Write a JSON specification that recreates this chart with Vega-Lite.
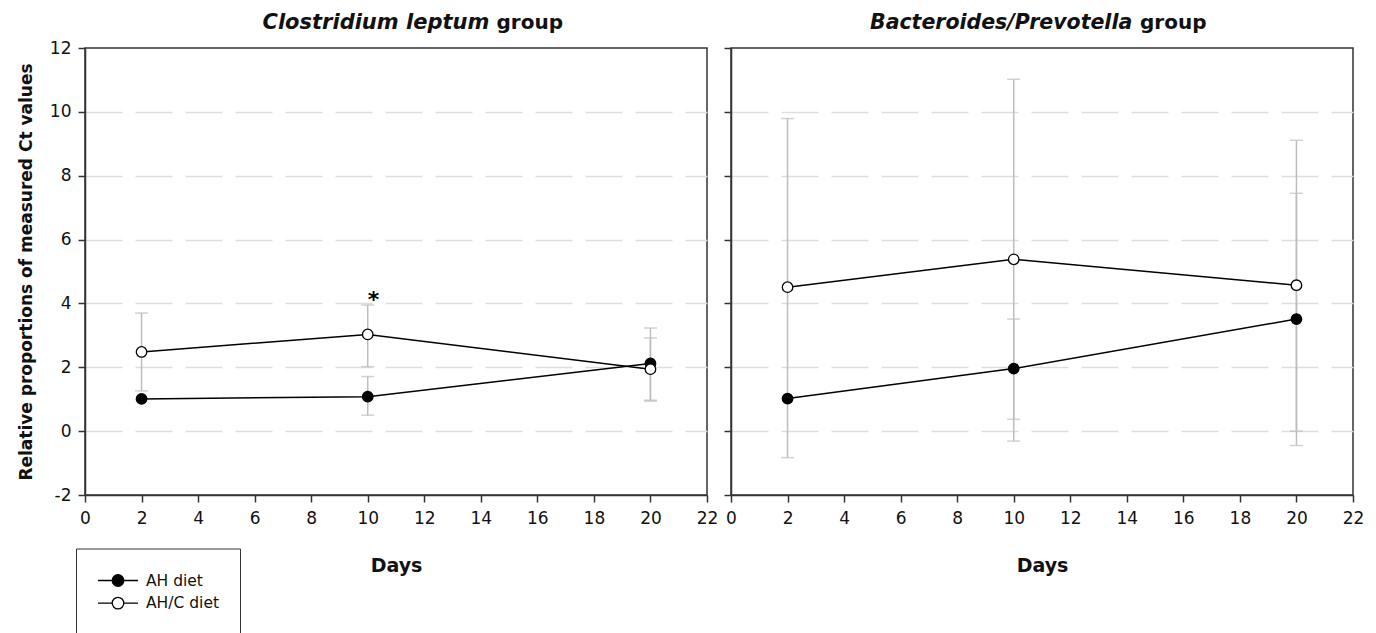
{
  "$schema": "https://vega.github.io/schema/vega-lite/v6.json",
  "background": "white",
  "padding": {"left": 16, "top": 10, "right": 5, "bottom": 0},
  "bounds": "flush",
  "spacing": 24,
  "config": {
    "font": "DejaVu Sans",
    "view": {"stroke": "#333333", "strokeWidth": 1.5},
    "axis": {
      "labelFont": "DejaVu Sans",
      "labelFontSize": 17,
      "labelColor": "#111111",
      "tickColor": "#333333",
      "tickWidth": 1.5,
      "tickSize": 7,
      "domainColor": "#333333",
      "domainWidth": 1.5,
      "titleFont": "DejaVu Sans",
      "titleFontWeight": "bold",
      "titleColor": "#111111"
    }
  },
  "resolve": {"scale": {"fill": "shared"}, "legend": {"fill": "shared"}},
  "datasets": {
    "series": [
      {"panel": "Clostridium leptum", "diet": "AH diet", "day": 2, "mean": 1.01, "lo": 1.01, "hi": 1.01},
      {"panel": "Clostridium leptum", "diet": "AH diet", "day": 10, "mean": 1.08, "lo": 0.50, "hi": 1.71},
      {"panel": "Clostridium leptum", "diet": "AH diet", "day": 20, "mean": 2.12, "lo": 0.97, "hi": 3.23},
      {"panel": "Clostridium leptum", "diet": "AH/C diet", "day": 2, "mean": 2.48, "lo": 1.26, "hi": 3.70},
      {"panel": "Clostridium leptum", "diet": "AH/C diet", "day": 10, "mean": 3.03, "lo": 2.02, "hi": 3.95},
      {"panel": "Clostridium leptum", "diet": "AH/C diet", "day": 20, "mean": 1.94, "lo": 0.94, "hi": 2.92},
      {"panel": "Bacteroides/Prevotella", "diet": "AH diet", "day": 2, "mean": 1.02, "lo": 1.02, "hi": 1.02},
      {"panel": "Bacteroides/Prevotella", "diet": "AH diet", "day": 10, "mean": 1.96, "lo": 0.37, "hi": 3.51},
      {"panel": "Bacteroides/Prevotella", "diet": "AH diet", "day": 20, "mean": 3.51, "lo": -0.45, "hi": 7.45},
      {"panel": "Bacteroides/Prevotella", "diet": "AH/C diet", "day": 2, "mean": 4.51, "lo": -0.83, "hi": 9.79},
      {"panel": "Bacteroides/Prevotella", "diet": "AH/C diet", "day": 10, "mean": 5.38, "lo": -0.31, "hi": 11.02},
      {"panel": "Bacteroides/Prevotella", "diet": "AH/C diet", "day": 20, "mean": 4.57, "lo": 0.0, "hi": 9.11}
    ],
    "notes": [
      {"panel": "Clostridium leptum", "day": 10.2, "value": 4.13, "label": "*"}
    ]
  },
  "hconcat": [
    {
      "width": 622,
      "height": 447,
      "data": {"name": "series"},
      "transform": [{"filter": "datum.panel === 'Clostridium leptum'"}],
      "resolve": {"axis": {"x": "independent", "y": "independent"}},
      "layer": [
        {
          "transform": [{"filter": "datum.hi > datum.lo"}],
          "mark": {"type": "rule", "color": "#bdbdbd", "strokeWidth": 1.5},
          "encoding": {
            "x": {"field": "day", "type": "quantitative", "scale": {"domain": [0, 22], "nice": false, "zero": false},
              "axis": {"orient": "bottom", "values": [0, 2, 4, 6, 8, 10, 12, 14, 16, 18, 20, 22], "grid": false, "title": "Days", "titleFontSize": 19, "titlePadding": 30, "labelPadding": 8, "labelFlush": false}},
            "y": {"field": "lo", "type": "quantitative", "scale": {"domain": [-2, 12], "nice": false, "zero": false},
              "axis": {"orient": "left", "values": [-2, 0, 2, 4, 6, 8, 10, 12], "labelExpr": "datum.value < 0 ? '-' + abs(datum.value) : datum.label", "grid": false, "title": "Relative proportions of measured Ct values", "titleFontSize": 17, "titlePadding": 14, "labelPadding": 7}},
            "y2": {"field": "hi"}
          }
        },
        {
          "transform": [{"filter": "datum.hi > datum.lo"}],
          "mark": {"type": "tick", "orient": "horizontal", "color": "#bdbdbd", "size": 13, "thickness": 1.5},
          "encoding": {
            "x": {"field": "day", "type": "quantitative", "axis": null},
            "y": {"field": "lo", "type": "quantitative", "axis": null}
          }
        },
        {
          "transform": [{"filter": "datum.hi > datum.lo"}],
          "mark": {"type": "tick", "orient": "horizontal", "color": "#bdbdbd", "size": 13, "thickness": 1.5},
          "encoding": {
            "x": {"field": "day", "type": "quantitative", "axis": null},
            "y": {"field": "hi", "type": "quantitative", "axis": null}
          }
        },
        {
          "mark": {"type": "line", "color": "black", "strokeWidth": 1.5},
          "encoding": {
            "x": {"field": "day", "type": "quantitative",
              "axis": {"orient": "top", "domain": false, "ticks": false, "labels": false, "grid": false, "title": "Clostridium leptum", "titleFontSize": 21, "titleFontStyle": "italic", "titleX": 177, "titleY": -20, "titleAlign": "left", "titleBaseline": "alphabetic", "titleAngle": 0}},
            "y": {"field": "mean", "type": "quantitative",
              "axis": {"orient": "left", "values": [0, 2, 4, 6, 8, 10], "grid": true, "gridColor": "#dedede", "gridWidth": 1.5, "gridDash": [37, 13], "domain": false, "ticks": false, "labels": false, "title": null, "minExtent": 0}},
            "detail": {"field": "diet"}
          }
        },
        {
          "mark": {"type": "point", "shape": "circle", "filled": true, "stroke": "black", "strokeWidth": 1.3, "size": 110, "opacity": 1},
          "encoding": {
            "x": {"field": "day", "type": "quantitative",
              "axis": {"orient": "top", "domain": false, "ticks": false, "labels": false, "grid": false, "title": "group", "titleFontSize": 20, "titleFontStyle": "normal", "titleX": 411, "titleY": -20, "titleAlign": "left", "titleBaseline": "alphabetic", "titleAngle": 0}},
            "y": {"field": "mean", "type": "quantitative", "axis": null},
            "fill": {"field": "diet", "type": "nominal", "scale": {"domain": ["AH diet", "AH/C diet"], "range": ["black", "white"]},
              "legend": {"title": null, "orient": "none", "legendX": -9, "legendY": 500.5, "symbolType": "M-1,0H0.42M1.58,0H3M1.58,0A0.58,0.58 0 1 1 0.42,0A0.58,0.58 0 1 1 1.58,0Z", "symbolSize": 400, "symbolStrokeColor": "black", "symbolStrokeWidth": 1.3, "labelFont": "DejaVu Sans", "labelFontSize": 15.5, "labelColor": "#111111", "labelOffset": 27, "rowPadding": 2.6, "padding": 21, "strokeColor": "#333333"}}
          }
        },
        {
          "data": {"name": "notes"},
          "mark": {"type": "text", "font": "DejaVu Sans", "fontSize": 22, "fontWeight": "bold", "baseline": "middle", "align": "center", "dy": 1, "color": "black"},
          "encoding": {
            "x": {"field": "day", "type": "quantitative", "axis": null},
            "y": {"field": "value", "type": "quantitative", "axis": null},
            "text": {"field": "label"}
          }
        }
      ]
    },
    {
      "width": 622,
      "height": 447,
      "data": {"name": "series"},
      "transform": [{"filter": "datum.panel === 'Bacteroides/Prevotella'"}],
      "resolve": {"axis": {"x": "independent", "y": "independent"}},
      "layer": [
        {
          "transform": [{"filter": "datum.hi > datum.lo"}],
          "mark": {"type": "rule", "color": "#bdbdbd", "strokeWidth": 1.5},
          "encoding": {
            "x": {"field": "day", "type": "quantitative", "scale": {"domain": [0, 22], "nice": false, "zero": false},
              "axis": {"orient": "bottom", "values": [0, 2, 4, 6, 8, 10, 12, 14, 16, 18, 20, 22], "grid": false, "title": "Days", "titleFontSize": 19, "titlePadding": 30, "labelPadding": 8, "labelFlush": false}},
            "y": {"field": "lo", "type": "quantitative", "scale": {"domain": [-2, 12], "nice": false, "zero": false},
              "axis": {"orient": "left", "values": [-2, 0, 2, 4, 6, 8, 10, 12], "grid": false, "title": null, "labels": false, "minExtent": 0}},
            "y2": {"field": "hi"}
          }
        },
        {
          "transform": [{"filter": "datum.hi > datum.lo"}],
          "mark": {"type": "tick", "orient": "horizontal", "color": "#bdbdbd", "size": 13, "thickness": 1.5},
          "encoding": {
            "x": {"field": "day", "type": "quantitative", "axis": null},
            "y": {"field": "lo", "type": "quantitative", "axis": null}
          }
        },
        {
          "transform": [{"filter": "datum.hi > datum.lo"}],
          "mark": {"type": "tick", "orient": "horizontal", "color": "#bdbdbd", "size": 13, "thickness": 1.5},
          "encoding": {
            "x": {"field": "day", "type": "quantitative", "axis": null},
            "y": {"field": "hi", "type": "quantitative", "axis": null}
          }
        },
        {
          "mark": {"type": "line", "color": "black", "strokeWidth": 1.5},
          "encoding": {
            "x": {"field": "day", "type": "quantitative",
              "axis": {"orient": "top", "domain": false, "ticks": false, "labels": false, "grid": false, "title": "Bacteroides/Prevotella", "titleFontSize": 20.5, "titleFontStyle": "italic", "titleX": 138.5, "titleY": -20, "titleAlign": "left", "titleBaseline": "alphabetic", "titleAngle": 0}},
            "y": {"field": "mean", "type": "quantitative",
              "axis": {"orient": "left", "values": [0, 2, 4, 6, 8, 10], "grid": true, "gridColor": "#dedede", "gridWidth": 1.5, "gridDash": [37, 13], "domain": false, "ticks": false, "labels": false, "title": null, "minExtent": 0}},
            "detail": {"field": "diet"}
          }
        },
        {
          "mark": {"type": "point", "shape": "circle", "filled": true, "stroke": "black", "strokeWidth": 1.3, "size": 110, "opacity": 1},
          "encoding": {
            "x": {"field": "day", "type": "quantitative",
              "axis": {"orient": "top", "domain": false, "ticks": false, "labels": false, "grid": false, "title": "group", "titleFontSize": 20, "titleFontStyle": "normal", "titleX": 408.5, "titleY": -20, "titleAlign": "left", "titleBaseline": "alphabetic", "titleAngle": 0}},
            "y": {"field": "mean", "type": "quantitative", "axis": null},
            "fill": {"field": "diet", "type": "nominal", "scale": {"domain": ["AH diet", "AH/C diet"], "range": ["black", "white"]},
              "legend": {"title": null, "orient": "none", "legendX": -9, "legendY": 500.5, "symbolType": "M-1,0H0.42M1.58,0H3M1.58,0A0.58,0.58 0 1 1 0.42,0A0.58,0.58 0 1 1 1.58,0Z", "symbolSize": 400, "symbolStrokeColor": "black", "symbolStrokeWidth": 1.3, "labelFont": "DejaVu Sans", "labelFontSize": 15.5, "labelColor": "#111111", "labelOffset": 27, "rowPadding": 2.6, "padding": 21, "strokeColor": "#333333"}}
          }
        }
      ]
    }
  ]
}
